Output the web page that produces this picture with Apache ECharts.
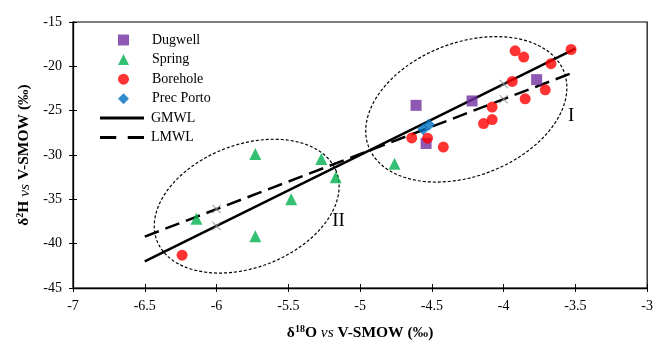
<!DOCTYPE html>
<html><head><meta charset="utf-8">
<script src="https://cdn.jsdelivr.net/npm/echarts@6/dist/echarts.min.js"></script>
<style>html,body{margin:0;padding:0;background:#fff}#c{width:656px;height:346px}</style>
</head><body><div id="c"></div>
<script>
// ---- data ----
const xAxisRange = [-7, -3];
const xInterval = 0.5;
const yAxisRange = [-45, -15];
const yInterval = 5;

const dugwell = [[-4.61, -24.4], [-4.22, -23.9], [-3.77, -21.5], [-4.54, -28.7]];
const spring = [[-5.73, -29.9], [-5.27, -30.45], [-5.17, -32.5], [-5.48, -35.0], [-6.14, -37.2], [-5.73, -39.15], [-4.76, -31.0]];
const borehole = [[-3.92, -18.25], [-3.86, -18.95], [-3.53, -18.1], [-3.67, -19.7], [-3.94, -21.7], [-3.71, -22.65], [-3.85, -23.66], [-4.08, -24.6], [-4.08, -26.0], [-4.14, -26.46], [-4.64, -28.07], [-4.53, -28.1], [-4.42, -29.1], [-6.24, -41.3]];
const precPorto = [[-4.56, -27.1], [-4.52, -26.6]];
const gmwlX = [-6.5, -3.5];
const gmwlY = [-42, -18];
const lmwlX = [-6.5, -3.5];
const lmwlY = [-39.2, -20.6];
const crossMarks = [[-6, -38], [-6, -36.1], [-4, -22], [-4, -23.7]];
// ellipse annotations: centre x, centre y, semi-axis a, semi-axis b (x units), tilt (deg)
const groupEllipses = [[-4.26, -24.85, 0.729, 0.465, 21], [-5.79, -35.77, 0.67, 0.428, 21]];
const groupLabels = [[-3.53, -25.6, 'I'], [-5.15, -37.4, 'II']];
const pointNames = ['Dugwell', 'Spring', 'Borehole', 'Prec Porto'];
const lineNames = ['GMWL', 'LMWL'];

const FONT = 'Liberation Serif';
const chart = echarts.init(document.getElementById('c'));

const baseX = {type: 'value', min: xAxisRange[0], max: xAxisRange[1], interval: xInterval, splitLine: {show: false}};
const baseY = {type: 'value', min: yAxisRange[0], max: yAxisRange[1], interval: yInterval, splitLine: {show: false}};
const rich = {
  b: {fontFamily: FONT, fontSize: 15.5, fontWeight: 'bold', color: '#000'},
  i: {fontFamily: FONT, fontSize: 15.5, fontStyle: 'italic', color: '#000'},
  sup: {fontFamily: FONT, fontSize: 10, fontWeight: 'bold', color: '#000', padding: [0, 0, 8, 0]}
};
const legendText = {fontFamily: FONT, fontSize: 14, color: '#000', lineHeight: 14};

chart.setOption({
  animation: false,
  backgroundColor: '#fff',
  grid: {left: 73, right: 3, top: 22, bottom: 56, show: true, borderColor: '#000', borderWidth: 1.2, backgroundColor: 'transparent'},
  legend: [
    {
      orient: 'vertical', left: 118, top: 33, padding: 0,
      itemWidth: 11, itemHeight: 11, itemGap: 5.6,
      data: [
        {name: pointNames[0], icon: 'rect'},
        {name: pointNames[1], icon: 'triangle'},
        {name: pointNames[2], icon: 'circle'},
        {name: pointNames[3], icon: 'diamond'}
      ],
      textStyle: Object.assign({padding: [0, 0, 0, 18]}, legendText)
    },
    {
      orient: 'vertical', left: 100, top: 111, padding: 0,
      itemWidth: 44, itemHeight: 11, itemGap: 5.5,
      data: [
        {name: lineNames[0], icon: 'path://M0,0H46V3H0Z'},
        {name: lineNames[1], icon: 'path://M0,0H17V3H0ZM29,0H46V3H29Z'}
      ],
      textStyle: Object.assign({padding: [0, 0, 0, 2]}, legendText)
    }
  ],
  xAxis: [
    Object.assign({}, baseX, {
      position: 'bottom',
      name: '{b|δ}{sup|18}{b|O }{i|vs}{b| V-SMOW (‰)}',
      nameLocation: 'middle', nameGap: 36,
      nameTextStyle: {rich: rich},
      axisLine: {lineStyle: {color: '#000', width: 1.3}},
      axisTick: {inside: true, length: 4, lineStyle: {color: '#000', width: 1}},
      axisLabel: {fontFamily: FONT, fontSize: 14, color: '#000', margin: 11}
    }),
    Object.assign({}, baseX, {
      position: 'bottom',
      axisLine: {show: false},
      axisTick: {inside: false, length: 4, lineStyle: {color: '#000', width: 1}},
      axisLabel: {show: false}
    })
  ],
  yAxis: [
    Object.assign({}, baseY, {
      position: 'left',
      name: '{b|δ}{sup|2}{b|H }{i|vs}{b| V-SMOW (‰)}',
      nameLocation: 'middle', nameGap: 37, nameRotate: 90,
      nameTextStyle: {rich: rich},
      axisLine: {lineStyle: {color: '#000', width: 1.3}},
      axisTick: {inside: true, length: 4, lineStyle: {color: '#000', width: 1}},
      axisLabel: {fontFamily: FONT, fontSize: 14, color: '#000', margin: 11}
    }),
    Object.assign({}, baseY, {
      position: 'left',
      axisLine: {show: false},
      axisTick: {inside: false, length: 4, lineStyle: {color: '#000', width: 1}},
      axisLabel: {show: false}
    })
  ],
  series: [
    {
      type: 'custom', name: 'groups', silent: true, z: 1,
      data: groupEllipses,
      encode: {x: 0, y: 1},
      renderItem: function (params, api) {
        const c = api.coord([api.value(0), api.value(1)]);
        const rx = api.size([api.value(2), 0])[0];
        const ry = api.size([api.value(3), 0])[0];
        const th = api.value(4) * Math.PI / 180;
        const pts = [];
        for (let k = 0; k <= 120; k++) {
          const t = k / 120 * Math.PI * 2;
          const ex = rx * Math.cos(t), ey = ry * Math.sin(t);
          pts.push([c[0] + ex * Math.cos(th) - ey * Math.sin(th), c[1] - (ex * Math.sin(th) + ey * Math.cos(th))]);
        }
        return {type: 'polygon', shape: {points: pts}, style: {fill: 'none', stroke: '#000', lineWidth: 1.2, lineDash: [3, 2]}};
      }
    },
    {
      type: 'custom', name: 'groupLabels', silent: true, z: 1,
      data: groupLabels,
      encode: {x: 0, y: 1},
      renderItem: function (params, api) {
        const c = api.coord([api.value(0), api.value(1)]);
        return {type: 'text', x: c[0], y: c[1], style: {text: groupLabels[params.dataIndex][2], fontFamily: FONT, fontSize: 19, fill: '#000', align: 'center', verticalAlign: 'middle'}};
      }
    },
    {
      name: 'GMWL', type: 'line', z: 2, symbol: 'none', showSymbol: false,
      data: gmwlX.map((x, i) => [x, gmwlY[i]]),
      lineStyle: {color: '#000', width: 2.5, type: 'solid'},
      itemStyle: {color: '#000'}
    },
    {
      name: 'LMWL', type: 'line', z: 2, symbol: 'none', showSymbol: false,
      data: lmwlX.map((x, i) => [x, lmwlY[i]]),
      lineStyle: {color: '#000', width: 2.5, type: [15, 7]},
      itemStyle: {color: '#000'}
    },
    {
      name: 'cross', type: 'scatter', z: 3, silent: true,
      data: crossMarks,
      symbol: 'path://M0,0.8L0.8,0L10,9.2L9.2,10ZM9.2,0L10,0.8L0.8,10L0,9.2Z',
      symbolSize: 9,
      itemStyle: {color: '#8a8a8a'}
    },
    {name: 'Dugwell', type: 'scatter', z: 4, data: dugwell, symbol: 'rect', symbolSize: 11, itemStyle: {color: '#7030A0'}},
    {name: 'Spring', type: 'scatter', z: 4, data: spring, symbol: 'triangle', symbolSize: 12, itemStyle: {color: '#00B050'}},
    {name: 'Borehole', type: 'scatter', z: 4, data: borehole, symbol: 'circle', symbolSize: 11, itemStyle: {color: '#FF0000'}},
    {name: 'Prec Porto', type: 'scatter', z: 5, data: precPorto, symbol: 'diamond', symbolSize: 12, itemStyle: {color: '#0070C0'}}
  ]
});
</script>
</body></html>
